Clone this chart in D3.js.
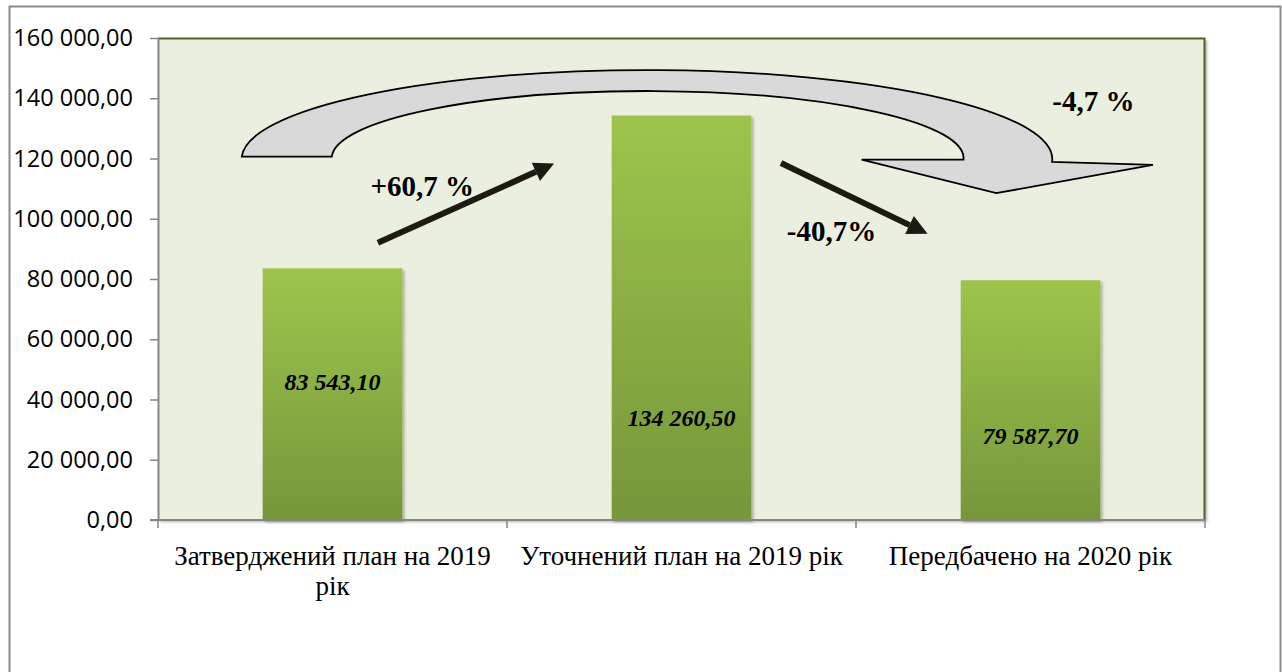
<!DOCTYPE html>
<html>
<head>
<meta charset="utf-8">
<script src="https://cdn.jsdelivr.net/npm/d3@7"></script>
<style>
  body { margin: 0; background: #fff; }
  svg { display: block; }
</style>
</head>
<body>
<svg></svg>
<script>
// data
var categories = ["Затверджений план на 2019 рік", "Уточнений план на 2019 рік", "Передбачено на 2020 рік"];
var values = [83543.10, 134260.50, 79587.70];
var valueLabels = ["83 543,10", "134 260,50", "79 587,70"];
var labelAt = [46000, 34000, 28000];   // where the value label sits, in value units
var yTicks = [0, 20000, 40000, 60000, 80000, 100000, 120000, 140000, 160000];

// annotations, in (category units, value units)
var straightArrows = [
  {from: [0.63, 92000], to: [1.135, 118300], text: "+60,7 %", at: [0.757, 110800]},
  {from: [1.785, 118500], to: [2.205, 95000], text: "-40,7%", at: [1.93, 96000]}
];
var curveText = {text: "-4,7 %", at: [2.68, 139200]};
var curvePts = {
  outerStart: [0.240, 120600], outerEnd: [2.562, 118900],
  barbR: [2.851, 117900], tip: [2.402, 108500], barbL: [2.016, 119600],
  innerStart: [2.308, 119600], innerEnd: [0.498, 120600],
  outerR: [1.161, 29600], innerR: [0.905, 22300]
};

var W = 1282, H = 672;
var margin = {top: 38, right: 77, bottom: 152, left: 158},
    width = W - margin.left - margin.right,
    height = H - margin.top - margin.bottom;

var svg = d3.select("svg").attr("width", W).attr("height", H);

// outer frame
svg.append("rect")
    .attr("x", 9.5).attr("y", 6.5)
    .attr("width", 1271).attr("height", 700)
    .attr("fill", "none").attr("stroke", "#8c8c8c").attr("stroke-width", 2);

var defs = svg.append("defs");
var grad = defs.append("linearGradient").attr("id", "barGrad")
    .attr("x1", 0).attr("y1", 0).attr("x2", 0).attr("y2", 1);
grad.append("stop").attr("offset", "0%").attr("stop-color", "#9dc54c");
grad.append("stop").attr("offset", "100%").attr("stop-color", "#76963a");

var shadow = defs.append("filter").attr("id", "shadow")
    .attr("x", "-10%").attr("y", "-10%").attr("width", "130%").attr("height", "130%");
shadow.append("feDropShadow").attr("dx", 2).attr("dy", 2).attr("stdDeviation", 1.5)
    .attr("flood-color", "#000").attr("flood-opacity", 0.3);

var g = svg.append("g").attr("transform", "translate(" + margin.left + "," + margin.top + ")");

var x = d3.scaleBand().domain(categories).range([0, width]).paddingInner(0.6).paddingOuter(0.3);
var xu = d3.scaleLinear().domain([0, 3]).range([0, width]);
var y = d3.scaleLinear().domain([0, 160000]).range([height, 0]);

// plot area
g.append("rect")
    .attr("width", width).attr("height", height)
    .attr("fill", "#ebefdf")
    .attr("filter", "url(#shadow)");
g.append("path")
    .attr("d", "M0,0.5H" + (width - 0.5) + "V" + height)
    .attr("fill", "none").attr("stroke", "#4f6228").attr("stroke-width", 2);

// bars
g.selectAll("rect.bar")
    .data(values)
    .join("rect")
    .attr("class", "bar")
    .attr("x", (d, i) => x(categories[i]))
    .attr("y", d => y(d))
    .attr("width", x.bandwidth())
    .attr("height", d => height - y(d))
    .attr("fill", "url(#barGrad)")
    .attr("filter", "url(#shadow)");

g.selectAll("text.val")
    .data(values)
    .join("text")
    .attr("class", "val")
    .attr("x", (d, i) => x(categories[i]) + x.bandwidth() / 2)
    .attr("y", (d, i) => y(labelAt[i]))
    .attr("dy", "0.35em")
    .attr("text-anchor", "middle")
    .attr("font-family", "Liberation Serif")
    .attr("font-weight", "bold")
    .attr("font-style", "italic")
    .attr("font-size", 24)
    .text((d, i) => valueLabels[i]);

// y axis
var yAxis = g.append("g")
    .call(d3.axisLeft(y).tickValues(yTicks).tickSize(8).tickSizeOuter(0)
        .tickFormat(d => d3.format(",.2f")(d).replace(/,/g, " ").replace(".", ",")));
yAxis.select(".domain").attr("stroke", "#868686").attr("stroke-width", 2);
yAxis.selectAll(".tick line").attr("stroke", "#868686").attr("stroke-width", 1.5);
yAxis.selectAll(".tick text")
    .attr("x", -25)
    .attr("fill", "#000")
    .attr("font-family", "Open Sans")
    .attr("font-size", 23.5);

// x axis
var xAxis = g.append("g").attr("transform", "translate(0," + height + ")");
xAxis.append("line").attr("x1", -8).attr("x2", width)
    .attr("stroke", "#868686").attr("stroke-width", 2);
xAxis.selectAll("line.tk")
    .data([0, 1, 2, 3])
    .join("line")
    .attr("class", "tk")
    .attr("x1", d => xu(d)).attr("x2", d => xu(d))
    .attr("y1", 0).attr("y2", 8)
    .attr("stroke", "#868686").attr("stroke-width", 1.5);

var xLines = [["Затверджений план на 2019", "рік"], ["Уточнений план на 2019 рік"], ["Передбачено на 2020 рік"]];
xAxis.selectAll("text.cat")
    .data(categories)
    .join("text")
    .attr("class", "cat")
    .attr("text-anchor", "middle")
    .attr("font-family", "Liberation Serif")
    .attr("font-size", 27)
    .each(function(d, i) {
        d3.select(this).selectAll("tspan")
            .data(xLines[i])
            .join("tspan")
            .attr("x", x(d) + x.bandwidth() / 2)
            .attr("y", (t, j) => 45 + j * 30)
            .text(t => t);
    });

// curved block arrow
var px = p => xu(p[0]), py = p => y(p[1]);
var c = curvePts;
var orx = xu(c.outerR[0]) - xu(0), ory = height - y(c.outerR[1]);
var irx = xu(c.innerR[0]) - xu(0), iry = height - y(c.innerR[1]);
var curve = "M" + px(c.outerStart) + "," + py(c.outerStart) +
    " A" + orx + "," + ory + " 0 0 1 " + px(c.outerEnd) + "," + py(c.outerEnd) +
    " L" + px(c.barbR) + "," + py(c.barbR) +
    " L" + px(c.tip) + "," + py(c.tip) +
    " L" + px(c.barbL) + "," + py(c.barbL) +
    " L" + px(c.innerStart) + "," + py(c.innerStart) +
    " A" + irx + "," + iry + " 0 0 0 " + px(c.innerEnd) + "," + py(c.innerEnd) + " Z";
g.append("path").attr("d", curve)
    .attr("fill", "#d9d9d9").attr("stroke", "#000").attr("stroke-width", 1.8)
    .attr("stroke-linejoin", "miter");

// straight arrows
straightArrows.forEach(function(a) {
    var x1 = px(a.from), y1 = py(a.from), x2 = px(a.to), y2 = py(a.to);
    var ang = Math.atan2(y2 - y1, x2 - x1);
    var hl = 20, hw = 10;
    var bx = x2 - hl * Math.cos(ang), by = y2 - hl * Math.sin(ang);
    g.append("line")
        .attr("x1", x1).attr("y1", y1).attr("x2", bx).attr("y2", by)
        .attr("stroke", "#1d1b11").attr("stroke-width", 6);
    g.append("path")
        .attr("d", "M" + x2 + "," + y2 +
            "L" + (bx + hw * Math.sin(ang)) + "," + (by - hw * Math.cos(ang)) +
            "L" + (bx - hw * Math.sin(ang)) + "," + (by + hw * Math.cos(ang)) + "Z")
        .attr("fill", "#1d1b11");
});

g.selectAll("text.ann")
    .data(straightArrows.concat([curveText]))
    .join("text")
    .attr("class", "ann")
    .attr("x", d => px(d.at))
    .attr("y", d => py(d.at))
    .attr("dy", "0.35em")
    .attr("text-anchor", "middle")
    .attr("font-family", "Liberation Serif")
    .attr("font-weight", "bold")
    .attr("font-size", 29)
    .text(d => d.text);
</script>
</body>
</html>
